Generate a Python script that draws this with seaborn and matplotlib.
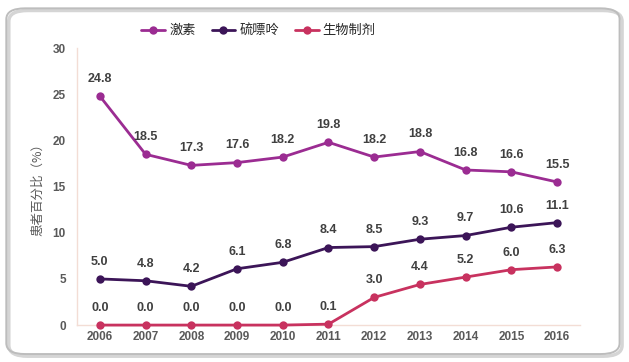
import matplotlib
matplotlib.use("Agg")
import matplotlib.pyplot as plt
import seaborn as sns
import pandas as pd
from matplotlib.patches import FancyBboxPatch

years = ["2006", "2007", "2008", "2009", "2010", "2011", "2012", "2013", "2014", "2015", "2016"]
steroid = [24.8, 18.5, 17.3, 17.6, 18.2, 19.8, 18.2, 18.8, 16.8, 16.6, 15.5]
thiopurine = [5.0, 4.8, 4.2, 6.1, 6.8, 8.4, 8.5, 9.3, 9.7, 10.6, 11.1]
biologic = [0.0, 0.0, 0.0, 0.0, 0.0, 0.1, 3.0, 4.4, 5.2, 6.0, 6.3]
series_names = ["激素", "硫嘌呤", "生物制剂"]
colors = ["#9B2C92", "#3C1558", "#C8325F"]

sns.set_theme(style="white")
plt.rcParams['font.family'] = ['Noto Sans CJK SC', 'DejaVu Sans']

rows = []
for name, vals in zip(series_names, [steroid, thiopurine, biologic]):
    for i, v in enumerate(vals):
        rows.append({"x": i, "year": years[i], "value": v, "series": name})
df = pd.DataFrame(rows)

fig = plt.figure(figsize=(6.29, 3.62), dpi=100)
shadow = FancyBboxPatch((0.014, 0.016), 0.975, 0.955, boxstyle="round,pad=0,rounding_size=0.03",
                        transform=fig.transFigure, facecolor="none", edgecolor="#D5D5D5",
                        linewidth=2.5, zorder=-2)
fig.patches.append(shadow)
frame = FancyBboxPatch((0.010, 0.022), 0.975, 0.955, boxstyle="round,pad=0,rounding_size=0.03",
                       transform=fig.transFigure, facecolor="none", edgecolor="#BDBDBD",
                       linewidth=1.4, zorder=-1)
fig.patches.append(frame)
ax = fig.add_axes([0.1224, 0.102, 0.7997, 0.765])
ax.set_facecolor("none")

sns.lineplot(data=df, x="x", y="value", hue="series", hue_order=series_names,
             palette=colors, marker="o", markersize=6, markeredgewidth=0,
             linewidth=2, ax=ax, legend=True)
for line in ax.get_lines():
    line.set_clip_on(False)
    line.set_zorder(3)

for name, vals in zip(series_names, [steroid, thiopurine, biologic]):
    for i, v in enumerate(vals):
        ax.annotate(f"{v:.1f}", (i, v), xytext=(0, 8), textcoords="offset points",
                    ha="center", va="bottom", fontsize=9, fontweight="bold",
                    color="#404040", family="Liberation Sans")

ax.set_xlim(-0.5, 10.5)
ax.set_ylim(0, 30)
ax.set_xticks(range(len(years)))
ax.set_xticklabels(years)
ax.set_yticks([0, 5, 10, 15, 20, 25, 30])
for lbl in ax.get_xticklabels() + ax.get_yticklabels():
    lbl.set_fontweight("bold")
    lbl.set_fontsize(8.5)
    lbl.set_color("#595959")
    lbl.set_family("Liberation Sans")
ax.tick_params(axis="both", length=0, pad=4)
ax.tick_params(axis="y", pad=8)
ax.set_xlabel("")
ax.set_ylabel("患者百分比（%）", fontsize=9, color="#595959", labelpad=6)
for s in ["top", "right"]:
    ax.spines[s].set_visible(False)
for s in ["left", "bottom"]:
    ax.spines[s].set_color("#F3DDD5")
    ax.spines[s].set_linewidth(1)

handles, labels = ax.get_legend_handles_labels()
ax.get_legend().remove()
fig.legend(handles, labels, loc="center", bbox_to_anchor=(0.411, 0.915), ncol=3,
           frameon=False, fontsize=9.5, handlelength=1.8, handletextpad=0.3,
           columnspacing=1.2)

fig.savefig("out.png", dpi=100)
